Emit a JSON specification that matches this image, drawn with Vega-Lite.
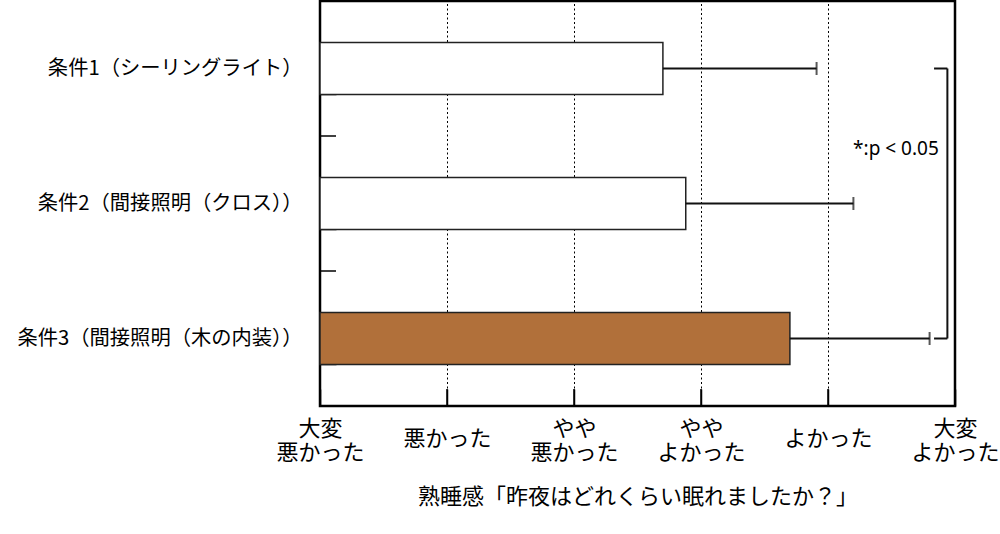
{
  "$schema": "https://vega.github.io/schema/vega-lite/v6.json",
  "width": 635,
  "height": 405,
  "autosize": "none",
  "padding": {"left": 320, "top": 1, "right": 45, "bottom": 128},
  "background": "white",
  "config": {
    "font": "Noto Sans CJK JP",
    "view": {"stroke": "black", "strokeWidth": 2.5},
    "axis": {"labelFont": "Noto Sans CJK JP", "titleFont": "Noto Sans CJK JP", "labelColor": "black", "titleColor": "black"}
  },
  "resolve": {"scale": {"y": "independent"}},
  "layer": [
    {
      "data": {
        "values": [
          {"cond": "条件1（シーリングライト）", "mean": 3.70, "upper": 4.91, "fill": "white"},
          {"cond": "条件2（間接照明（クロス））", "mean": 3.88, "upper": 5.20, "fill": "white"},
          {"cond": "条件3（間接照明（木の内装））", "mean": 4.70, "upper": 5.80, "fill": "#B1703A"}
        ]
      },
      "encoding": {
        "y": {
          "field": "cond",
          "type": "nominal",
          "sort": null,
          "scale": {"paddingInner": 0.615, "paddingOuter": 0.3075},
          "axis": {
            "title": null,
            "domainOpacity": 0,
            "offset": -16,
            "tickBand": "extent",
            "tickSize": 16,
            "tickWidth": 1.5,
            "tickColor": "black",
            "labelFontSize": 20.3,
            "labelLimit": 500,
            "labelPadding": 18,
            "grid": false
          }
        }
      },
      "layer": [
        {
          "mark": {"type": "bar", "stroke": "#222222", "strokeWidth": 1.5},
          "encoding": {
            "x": {
              "field": "mean",
              "type": "quantitative",
              "scale": {"domain": [1, 6], "nice": false},
              "axis": {
                "title": "熟睡感「昨夜はどれくらい眠れましたか？」",
                "titleFontSize": 22,
                "titleFontWeight": "normal",
                "titlePadding": 23,
                "values": [1, 2, 3, 4, 5, 6],
                "labelExpr": "split(['', '大変 悪かった', '悪かった', 'やや 悪かった', 'やや よかった', 'よかった', '大変 よかった'][datum.value], ' ')",
                "labelFontSize": 22,
                "labelLineHeight": 24,
                "labelBaseline": {"condition": {"test": "datum.value == 2 || datum.value == 5", "value": "top"}, "value": "middle"},
                "labelPadding": 22,
                "labelFlush": false,
                "labelOverlap": false,
                "domainOpacity": 0,
                "offset": -17,
                "tickSize": 17,
                "tickWidth": 1.5,
                "tickColor": "black",
                "grid": true,
                "gridColor": "black",
                "gridDash": [2, 2.5],
                "gridWidth": 1
              }
            },
            "x2": {"datum": 1},
            "fill": {"field": "fill", "type": "nominal", "scale": null}
          }
        },
        {
          "mark": {"type": "rule", "color": "#111111", "strokeWidth": 1.8},
          "encoding": {
            "x": {"field": "mean", "type": "quantitative"},
            "x2": {"field": "upper"}
          }
        },
        {
          "mark": {"type": "tick", "color": "#111111", "thickness": 2, "size": 13},
          "encoding": {
            "x": {"field": "upper", "type": "quantitative"}
          }
        },
        {
          "data": {"values": [
            {"x": 5.835, "x2": 5.94, "cond": "条件1（シーリングライト）"},
            {"x": 5.835, "x2": 5.94, "cond": "条件3（間接照明（木の内装））"}
          ]},
          "mark": {"type": "rule", "color": "#111111", "strokeWidth": 2},
          "encoding": {
            "x": {"field": "x", "type": "quantitative"},
            "x2": {"field": "x2"}
          }
        },
        {
          "data": {"values": [
            {"x": 5.94, "from": "条件1（シーリングライト）", "to": "条件3（間接照明（木の内装））"}
          ]},
          "mark": {"type": "rule", "color": "#111111", "strokeWidth": 2},
          "encoding": {
            "x": {"field": "x", "type": "quantitative"},
            "y": {"field": "from", "type": "nominal", "sort": null},
            "y2": {"field": "to"}
          }
        },
        {
          "data": {"values": [
            {"x": 5.535, "cond": "条件1（シーリングライト）", "label": "*:p < 0.05"}
          ]},
          "mark": {"type": "text", "fontSize": 19, "font": "Noto Sans", "color": "black", "dy": 80},
          "encoding": {
            "x": {"field": "x", "type": "quantitative"},
            "text": {"field": "label"}
          }
        }
      ]
    },
    {
      "data": {"values": [
        {"x": 2, "x2": 2, "y": 0, "y2": 0.126},
        {"x": 3, "x2": 3, "y": 0, "y2": 0.126},
        {"x": 4, "x2": 4, "y": 0, "y2": 0.126},
        {"x": 5, "x2": 5, "y": 0, "y2": 0.126},
        {"x": 1, "x2": 1.126, "y": 1, "y2": 1},
        {"x": 1, "x2": 1.126, "y": 2, "y2": 2}
      ]},
      "mark": {"type": "rule", "color": "black", "strokeWidth": 1.5},
      "encoding": {
        "x": {"field": "x", "type": "quantitative", "scale": {"domain": [1, 6], "nice": false}},
        "x2": {"field": "x2"},
        "y": {"field": "y", "type": "quantitative", "scale": {"domain": [0, 3], "nice": false, "zero": false}, "axis": null},
        "y2": {"field": "y2"}
      }
    }
  ]
}
